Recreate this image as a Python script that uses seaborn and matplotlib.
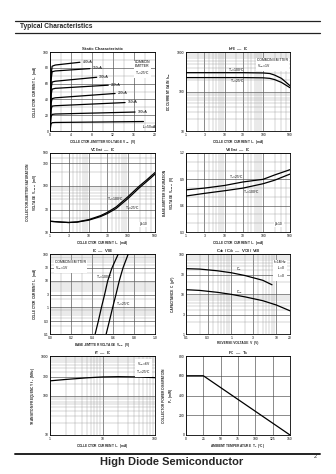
import numpy as np
import pandas as pd
import matplotlib
matplotlib.use("Agg")
import matplotlib.pyplot as plt
from matplotlib.lines import Line2D
from matplotlib.ticker import FixedLocator, NullFormatter, FixedFormatter, MultipleLocator
import seaborn as sns

sns.set_theme(style="white")
plt.rcParams['font.family'] = ['Liberation Sans', 'DejaVu Sans']
plt.rcParams['mathtext.fontset'] = 'custom'
plt.rcParams['mathtext.rm'] = 'Liberation Sans'
plt.rcParams['mathtext.it'] = 'Liberation Sans:italic'
plt.rcParams['mathtext.bf'] = 'Liberation Sans:bold'
plt.rcParams['mathtext.default'] = 'regular'

# ---------------- data ----------------
# Static characteristic
ib_labels = ["400uA", "350uA", "300uA", "250uA", "200uA", "150uA", "100uA", "I$_B$=50uA"]
static_vce = [
    [0, 0.2, 0.4, 1.0, 5.7],
    [0, 0.2, 0.4, 1.0, 7.6],
    [0, 0.2, 0.4, 1.0, 8.9],
    [0, 0.2, 0.4, 1.0, 11.1],
    [0, 0.2, 0.4, 1.0, 12.4],
    [0, 0.2, 0.4, 1.0, 14.3],
    [0, 0.2, 0.4, 1.0, 16.2],
    [0, 0.2, 0.4, 1.0, 17.8],
]
static_ic = [
    [0, 70, 82, 83.5, 87],
    [0, 64, 75, 76, 79],
    [0, 53, 62, 63, 68],
    [0, 45, 53, 54, 58],
    [0, 35, 41, 42, 47.5],
    [0, 27, 31.5, 32, 36],
    [0, 18, 21, 21.5, 24],
    [0, 9, 10.5, 10.8, 12],
]

# hFE - IC
hfe_ic = [1, 3, 10, 30, 100, 150, 200, 300, 500]
hfe_100 = [300, 300, 300, 300, 295, 285, 260, 215, 140]
hfe_25 = [225, 225, 225, 225, 222, 215, 200, 170, 125]

# VCEsat - IC
vcesat_ic = [1, 2, 3, 5, 10, 20, 30, 50, 100, 200, 300, 500]
vcesat_25 = [17, 16.3, 16, 16.3, 18, 21.5, 25, 32, 52, 90, 120, 175]
vcesat_100 = [17, 16.3, 16, 16.5, 18.5, 22.5, 26.5, 34.5, 57, 98, 130, 190]

# VBEsat - IC
vbesat_ic = [1, 3, 10, 30, 100, 200, 500]
vbesat_25 = [0.78, 0.80, 0.83, 0.87, 0.90, 0.95, 1.01]
vbesat_100 = [0.71, 0.74, 0.77, 0.80, 0.85, 0.89, 0.96]

# IC - VBE
ic_vals = [0.1, 0.3, 1, 3, 10, 30, 100]
vbe_25 = [0.535, 0.565, 0.597, 0.628, 0.66, 0.695, 0.745]
vbe_100 = [0.43, 0.46, 0.49, 0.52, 0.55, 0.59, 0.65]

# Cob / Cib
cib_v = [0.1, 0.2, 0.5, 1, 2, 5, 8]
cib_c = [43, 42, 38, 34, 29, 22, 17]
cob_v = [0.1, 0.2, 0.5, 1, 2, 5, 10, 20]
cob_c = [12.8, 12.3, 11, 9.8, 8.5, 6.8, 5.3, 3.8]

# fT - IC
ft_ic = [1, 2, 5, 10, 20, 50, 100]
ft_f = [235, 255, 280, 295, 300, 295, 283]

# PC - Ta
pc_ta = [0, 25, 150]
pc_p = [600, 600, 0]

W, H = 336, 474
fig = plt.figure(figsize=(W / 100, H / 100), dpi=100)

TICK_FS = 2.4
LAB_FS = 2.3
TITLE_FS = 3.1
LW = 0.9
MAJ = dict(color='#4a4a4a', lw=0.45)
MIN = dict(color='#9a9a9a', lw=0.3)


def add_ax(x0, x1, y0, y1):
    ax = fig.add_axes([x0 / W, 1 - y1 / H, (x1 - x0) / W, (y1 - y0) / H])
    for s in ax.spines.values():
        s.set_color('black')
        s.set_linewidth(0.6)
    ax.tick_params(which='both', length=0, labelsize=TICK_FS, pad=1.2, colors='black')
    ax.set_facecolor('white')
    return ax


def style(ax, title, xlabel, ylabel, xt, xtl, yt, ytl):
    ax.xaxis.set_major_locator(FixedLocator(xt))
    ax.xaxis.set_major_formatter(FixedFormatter(xtl))
    ax.yaxis.set_major_locator(FixedLocator(yt))
    ax.yaxis.set_major_formatter(FixedFormatter(ytl))
    ax.xaxis.set_minor_formatter(NullFormatter())
    ax.yaxis.set_minor_formatter(NullFormatter())
    ax.grid(which='major', **MAJ)
    ax.grid(which='minor', **MIN)
    ax.set_axisbelow(True)
    ax.set_title(title, fontsize=TITLE_FS, fontweight='bold', pad=1.2)
    ax.set_xlabel(xlabel, fontsize=LAB_FS, fontweight='bold', labelpad=1.0)
    ax.set_ylabel(ylabel, fontsize=LAB_FS, fontweight='bold', labelpad=2.5, linespacing=1.2)


def line(ax, x, y):
    df = pd.DataFrame({'x': x, 'y': y})
    sns.lineplot(data=df, x='x', y='y', ax=ax, color='black', lw=LW,
                 estimator=None, sort=False, legend=False)


def note(ax, x, y, s, ha='left', va='center', box=False, coords='data'):
    kw = dict(fontsize=TICK_FS, ha=ha, va=va, color='black', linespacing=1.15)
    if box:
        kw['bbox'] = dict(fc='white', ec='none', pad=0.6)
    if coords == 'axes':
        kw['transform'] = ax.transAxes
    ax.text(x, y, s, **kw)


dec_minor_1_500 = [m * d for d in (1, 10, 100) for m in range(2, 10) if m * d < 500]
lab_ic = ['1', '3', '10', '30', '100', '500']
tick_ic = [1, 3, 10, 30, 100, 500]

# ---------- 1. Static characteristic ----------
ax = add_ax(50, 155, 52, 131)
for xs, ys in zip(static_vce, static_ic):
    line(ax, xs, ys)
for xs, ys, lab in zip(static_vce[:-1], static_ic[:-1], ib_labels[:-1]):
    note(ax, xs[-1] + 0.5, ys[-1] + 0.5, lab)
note(ax, static_vce[-1][-1] - 0.3, static_ic[-1][-1] - 7, ib_labels[-1])
ax.set_xlim(0, 20)
ax.set_ylim(0, 100)
style(ax, "Static Characteristic", "COLLECTOR-EMITTER VOLTAGE  V$_{CE}$  (V)",
      "COLLECTOR CURRENT  I$_C$  (mA)",
      [0, 4, 8, 12, 16, 20], ['0', '4', '8', '12', '16', '20'],
      [0, 20, 40, 60, 80, 100], ['0', '20', '40', '60', '80', '100'])
ax.xaxis.set_minor_locator(MultipleLocator(2))
ax.yaxis.set_minor_locator(MultipleLocator(10))
note(ax, 0.81, 0.9, "COMMON\nEMITTER\nT$_a$=25°C", va='top', box=True, coords='axes')

# ---------- 2. hFE - IC ----------
ax = add_ax(186, 290, 52, 131)
ax.set_xscale('log')
ax.set_yscale('log')
line(ax, hfe_ic, hfe_100)
line(ax, hfe_ic, hfe_25)
ax.set_xlim(1, 500)
ax.set_ylim(10, 1000)
style(ax, "h$_{FE}$  —  I$_C$", "COLLECTOR CURRENT  I$_C$  (mA)", "DC CURRENT GAIN  h$_{FE}$",
      tick_ic, lab_ic, [10, 100, 1000], ['10', '100', '1000'])
ax.xaxis.set_minor_locator(FixedLocator(dec_minor_1_500))
ax.yaxis.set_minor_locator(FixedLocator([m * d for d in (10, 100) for m in range(2, 10)]))
note(ax, 12, 340, "T$_a$=100°C")
note(ax, 14, 180, "T$_a$=25°C")
note(ax, 0.68, 0.93, "COMMON EMITTER\nV$_{CE}$=1V", va='top', box=True, coords='axes')

# ---------- 3. VCEsat - IC ----------
ax = add_ax(50, 155, 153, 232)
ax.set_xscale('log')
ax.set_yscale('log')
line(ax, vcesat_ic, vcesat_100)
line(ax, vcesat_ic, vcesat_25)
ax.set_xlim(1, 500)
ax.set_ylim(10, 500)
style(ax, "V$_{CEsat}$  —  I$_C$", "COLLECTOR CURRENT  I$_C$  (mA)",
      "COLLECTOR-EMITTER SATURATION\nVOLTAGE  V$_{CEsat}$  (mV)",
      tick_ic, lab_ic, [10, 30, 100, 300, 500], ['10', '30', '100', '300', '500'])
ax.xaxis.set_minor_locator(FixedLocator(dec_minor_1_500))
ax.yaxis.set_minor_locator(FixedLocator([m * d for d in (10, 100) for m in range(2, 10) if m * d < 500]))
note(ax, 30, 52, "T$_a$=100°C")
note(ax, 85, 33, "T$_a$=25°C")
note(ax, 0.93, 0.07, "β=10", ha='right', va='bottom', box=True, coords='axes')

# ---------- 4. VBEsat - IC ----------
ax = add_ax(186, 290, 153, 232)
ax.set_xscale('log')
line(ax, vbesat_ic, vbesat_25)
line(ax, vbesat_ic, vbesat_100)
ax.set_xlim(1, 500)
ax.set_ylim(0.3, 1.2)
style(ax, "V$_{BEsat}$  —  I$_C$", "COLLECTOR CURRENT  I$_C$  (mA)",
      "BASE-EMITTER SATURATION\nVOLTAGE  V$_{BEsat}$  (V)",
      tick_ic, lab_ic, [0.3, 0.6, 0.9, 1.2], ['0.3', '0.6', '0.9', '1.2'])
ax.xaxis.set_minor_locator(FixedLocator(dec_minor_1_500))
ax.yaxis.set_minor_locator(MultipleLocator(0.1))
note(ax, 13, 0.92, "T$_a$=25°C")
note(ax, 30, 0.75, "T$_a$=100°C")
note(ax, 0.93, 0.07, "β=10", ha='right', va='bottom', box=True, coords='axes')

# ---------- 5. IC - VBE ----------
ax = add_ax(50, 155, 254, 334)
ax.set_yscale('log')
line(ax, vbe_100, ic_vals)
line(ax, vbe_25, ic_vals)
ax.set_xlim(0, 1.0)
ax.set_ylim(0.1, 100)
style(ax, "I$_C$  —  V$_{BE}$", "BASE-EMITTER VOLTAGE  V$_{BE}$  (V)",
      "COLLECTOR CURRENT  I$_C$  (mA)",
      [0, 0.2, 0.4, 0.6, 0.8, 1.0], ['0.0', '0.2', '0.4', '0.6', '0.8', '1.0'],
      [0.1, 0.3, 1, 3, 10, 30, 100], ['0.1', '0.3', '1', '3', '10', '30', '100'])
ax.xaxis.set_minor_locator(MultipleLocator(0.1))
ax.yaxis.set_minor_locator(FixedLocator([m * d for d in (0.1, 1, 10) for m in range(2, 10)]))
note(ax, 0.44, 14, "T$_a$=100°C")
note(ax, 0.63, 1.3, "T$_a$=25°C")
note(ax, 0.05, 0.93, "COMMON EMITTER\nV$_{CE}$=1V", va='top', box=True, coords='axes')

# ---------- 6. Cob/Cib ----------
ax = add_ax(186, 290, 254, 334)
ax.set_xscale('log')
ax.set_yscale('log')
line(ax, cib_v, cib_c)
line(ax, cob_v, cob_c)
ax.set_xlim(0.1, 20)
ax.set_ylim(1, 100)
style(ax, "C$_{ob}$ / C$_{ib}$  —  V$_{CB}$ / V$_{EB}$", "REVERSE VOLTAGE  V  (V)",
      "CAPACITANCE  C  (pF)",
      [0.1, 0.3, 1, 3, 10, 20], ['0.1', '0.3', '1', '3', '10', '20'],
      [1, 3, 10, 30, 100], ['1', '3', '10', '30', '100'])
ax.xaxis.set_minor_locator(FixedLocator([m * d for d in (0.1, 1, 10) for m in range(2, 10) if m * d < 20]))
ax.yaxis.set_minor_locator(FixedLocator([m * d for d in (1, 10) for m in range(2, 10)]))
note(ax, 1.3, 42, "C$_{ib}$")
note(ax, 1.25, 11, "C$_{ob}$")
note(ax, 0.96, 0.93, "f=1MHz\nI$_E$=0\nI$_C$=0", ha='right', va='top', box=True, coords='axes')

# ---------- 7. fT - IC ----------
ax = add_ax(50, 155, 356, 435)
ax.set_xscale('log')
ax.set_yscale('log')
line(ax, ft_ic, ft_f)
ax.set_xlim(1, 100)
ax.set_ylim(10, 1000)
style(ax, "f$_T$  —  I$_C$", "COLLECTOR CURRENT  I$_C$  (mA)",
      "TRANSITION FREQUENCY  f$_T$  (MHz)",
      [1, 10, 100], ['1', '10', '100'],
      [10, 100, 300, 1000], ['10', '100', '300', '1000'])
ax.xaxis.set_minor_locator(FixedLocator([m * d for d in (1, 10) for m in range(2, 10)]))
ax.yaxis.set_minor_locator(FixedLocator([m * d for d in (10, 100) for m in range(2, 10)]))
note(ax, 0.96, 0.95, "V$_{CE}$=6V\nT$_a$=25°C", ha='right', va='top', box=True, coords='axes')

# ---------- 8. PC - Ta ----------
ax = add_ax(186, 290, 356, 435)
line(ax, pc_ta, pc_p)
ax.set_xlim(0, 150)
ax.set_ylim(0, 800)
style(ax, "P$_C$  —  T$_a$", "AMBIENT TEMPERATURE  T$_a$  (°C)",
      "COLLECTOR POWER DISSIPATION\nP$_C$  (mW)",
      [0, 25, 50, 75, 100, 125, 150], ['0', '25', '50', '75', '100', '125', '150'],
      [0, 200, 400, 600, 800], ['0', '200', '400', '600', '800'])

# ---------- page decorations ----------
for yy, lw in ((21, 0.9), (33, 0.9), (454, 1.4)):
    fig.add_artist(Line2D([15 / W, 320 / W], [1 - yy / H, 1 - yy / H],
                          transform=fig.transFigure, color='#222222', lw=lw))
fig.text(20 / W, 1 - 27 / H, "Typical Characteristics", fontsize=4.8, fontweight='bold',
         ha='left', va='center')
fig.text(172 / W, 1 - 462 / H, "High Diode Semiconductor", fontsize=8, fontweight='bold',
         ha='center', va='center')
fig.text(315 / W, 1 - 457 / H, "2", fontsize=4, ha='center', va='center')

fig.savefig("out.png", dpi=100, facecolor='white')
